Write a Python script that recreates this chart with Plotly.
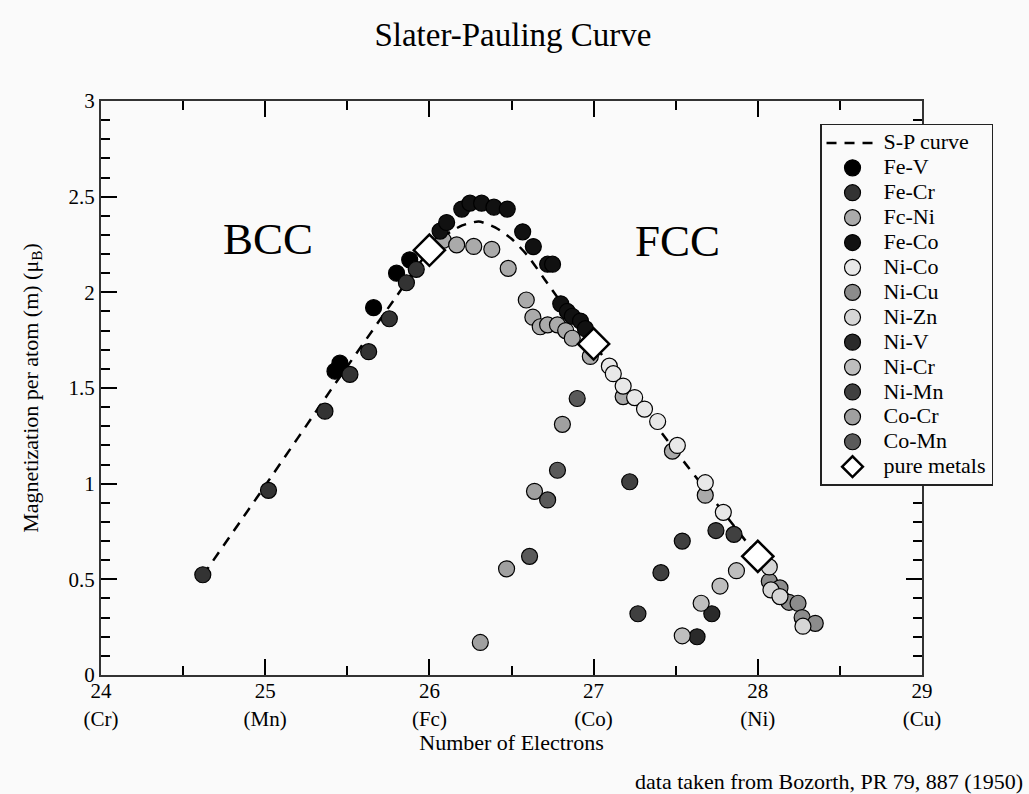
import plotly.graph_objects as go

# ---- data: electrons per atom vs. moment per atom (Bohr magnetons) ----
sp_x = [24.62, 25.0, 25.4, 25.8, 26.0, 26.1, 26.2, 26.3, 26.4, 26.5, 26.6, 26.7, 26.8, 27.0, 27.5, 28.0, 28.35]
sp_y = [0.52, 0.99, 1.49, 1.98, 2.22, 2.30, 2.35, 2.37, 2.34, 2.28, 2.19, 2.07, 1.95, 1.73, 1.17, 0.62, 0.24]

fev_x = [25.425, 25.455, 25.66, 25.80, 25.88]
fev_y = [1.588, 1.63, 1.92, 2.10, 2.17]

fecr_x = [24.62, 25.02, 25.364, 25.516, 25.63, 25.756, 25.86, 25.92]
fecr_y = [0.524, 0.965, 1.379, 1.571, 1.69, 1.862, 2.05, 2.12]

feni_x = [26.085, 26.166, 26.27, 26.38, 26.48, 26.59, 26.63, 26.675, 26.72, 26.78, 26.83, 26.87, 26.98, 27.18, 27.48, 27.68]
feni_y = [2.272, 2.248, 2.24, 2.225, 2.125, 1.96, 1.87, 1.82, 1.83, 1.83, 1.80, 1.76, 1.665, 1.455, 1.17, 0.94]

feco_x = [26.065, 26.105, 26.197, 26.247, 26.318, 26.393, 26.474, 26.568, 26.633, 26.72, 26.75,
          26.80, 26.84, 26.87, 26.92, 26.95]
feco_y = [2.32, 2.365, 2.435, 2.466, 2.466, 2.445, 2.435, 2.316, 2.239, 2.147, 2.147,
          1.94, 1.90, 1.875, 1.85, 1.81]

nico_x = [27.096, 27.12, 27.18, 27.25, 27.31, 27.39, 27.51, 27.68, 27.79]
nico_y = [1.614, 1.575, 1.51, 1.45, 1.39, 1.325, 1.20, 1.005, 0.85]

nicu_x = [28.07, 28.135, 28.19, 28.245, 28.27, 28.35]
nicu_y = [0.49, 0.455, 0.38, 0.375, 0.30, 0.27]

nizn_x = [28.07, 28.08, 28.135, 28.275]
nizn_y = [0.565, 0.445, 0.41, 0.255]

niv_x = [27.63, 27.72]
niv_y = [0.20, 0.32]

nicr_x = [27.54, 27.655, 27.77, 27.87]
nicr_y = [0.205, 0.375, 0.465, 0.545]

nimn_x = [27.22, 27.27, 27.41, 27.54, 27.745, 27.855]
nimn_y = [1.01, 0.32, 0.535, 0.70, 0.755, 0.735]

cocr_x = [26.31, 26.47, 26.64, 26.81]
cocr_y = [0.17, 0.555, 0.96, 1.31]

comn_x = [26.61, 26.72, 26.78, 26.90]
comn_y = [0.62, 0.915, 1.07, 1.445]

pure_x = [26.0, 27.0, 28.0]
pure_y = [2.22, 1.73, 0.62]

x_ticks = [24, 25, 26, 27, 28, 29]
x_tick_elements = ["Cr", "Mn", "Fc", "Co", "Ni", "Cu"]

alloys = [
    ("Fe-V", fev_x, fev_y, "#000000"),
    ("Fe-Cr", fecr_x, fecr_y, "#333333"),
    ("Fc-Ni", feni_x, feni_y, "#aaaaaa"),
    ("Fe-Co", feco_x, feco_y, "#111111"),
    ("Ni-Co", nico_x, nico_y, "#e8e8e8"),
    ("Ni-Cu", nicu_x, nicu_y, "#8c8c8c"),
    ("Ni-Zn", nizn_x, nizn_y, "#d6d6d6"),
    ("Ni-V", niv_x, niv_y, "#2a2a2a"),
    ("Ni-Cr", nicr_x, nicr_y, "#bebebe"),
    ("Ni-Mn", nimn_x, nimn_y, "#404040"),
    ("Co-Cr", cocr_x, cocr_y, "#a0a0a0"),
    ("Co-Mn", comn_x, comn_y, "#5a5a5a"),
]

SERIF = "Liberation Serif, Times New Roman, serif"
BG = "#fafafa"


def legend_label(text):
    # larger glyphs than the legend's row pitch would normally allow
    return f'<span style="font-size:22px">{text}</span>'


fig = go.Figure()

fig.add_trace(go.Scatter(
    x=sp_x, y=sp_y, mode="lines", name=legend_label("S-P curve"),
    line=dict(color="black", width=2.5, dash="10px,8px", shape="spline", smoothing=0.6),
))

for name, xs, ys, color in alloys:
    fig.add_trace(go.Scatter(
        x=xs, y=ys, mode="markers", name=legend_label(name),
        marker=dict(symbol="circle", size=16, color=color,
                    line=dict(color="black", width=1.2)),
    ))

fig.add_trace(go.Scatter(
    x=pure_x, y=pure_y, mode="markers", name=legend_label("pure metals"),
    marker=dict(symbol="diamond", size=24, color="white",
                line=dict(color="black", width=2.5)),
))

axis_common = dict(
    showline=True, linecolor="#333333", linewidth=2, mirror="ticks",
    ticks="inside", ticklen=16, tickwidth=2, tickcolor="black",
    showgrid=False, zeroline=False, layer="above traces",
    tickfont=dict(family=SERIF, size=21, color="black"),
)

fig.update_xaxes(
    range=[24, 29], tickmode="array", tickvals=x_ticks,
    ticktext=[f"{v}<br>({e})" for v, e in zip(x_ticks, x_tick_elements)],
    ticklabelstandoff=-4,
    minor=dict(ticks="inside", ticklen=9, tickwidth=2, tickcolor="black",
               dtick=0.5, tick0=24, showgrid=False),
    title=dict(text="Number of Electrons", font=dict(family=SERIF, size=22, color="black"),
               standoff=4),
    **axis_common,
)
fig.update_yaxes(
    range=[0, 3], dtick=0.5, tick0=0,
    minor=dict(ticks="inside", ticklen=9, tickwidth=2, tickcolor="black",
               dtick=0.1, tick0=0, showgrid=False),
    title=dict(text="Magnetization per atom (m) (\u03bc<sub>B</sub>)",
               font=dict(family=SERIF, size=22, color="black"), standoff=24),
    **axis_common,
)

fig.update_layout(
    width=1029, height=794,
    margin=dict(l=101, r=107, t=101, b=119, autoexpand=False),
    paper_bgcolor=BG, plot_bgcolor=BG,
    font=dict(family=SERIF, color="black"),
    title=dict(text="Slater-Pauling Curve", font=dict(family=SERIF, size=33, color="black"),
               x=0.4985, xanchor="center", y=0.957, yanchor="middle", yref="container"),
    showlegend=True,
    legend=dict(x=1.0865, xanchor="right", y=0.96, yanchor="top",
                font=dict(family=SERIF, size=16.85, color="black"),
                bgcolor=BG, bordercolor="#222222", borderwidth=1.5,
                tracegroupgap=0, itemwidth=52),
    annotations=[
        dict(x=25.014, y=2.277, xref="x", yref="y", text="BCC", showarrow=False,
             font=dict(family=SERIF, size=45, color="black")),
        dict(x=27.508, y=2.267, xref="x", yref="y", text="FCC", showarrow=False,
             font=dict(family=SERIF, size=45, color="black")),
        dict(x=0.648, y=-0.185, xref="paper", yref="paper", xanchor="left", yanchor="middle",
             text="data taken from Bozorth, PR 79, 887 (1950)", showarrow=False,
             font=dict(family=SERIF, size=22, color="black")),
    ],
)

fig.write_html("out.html")
